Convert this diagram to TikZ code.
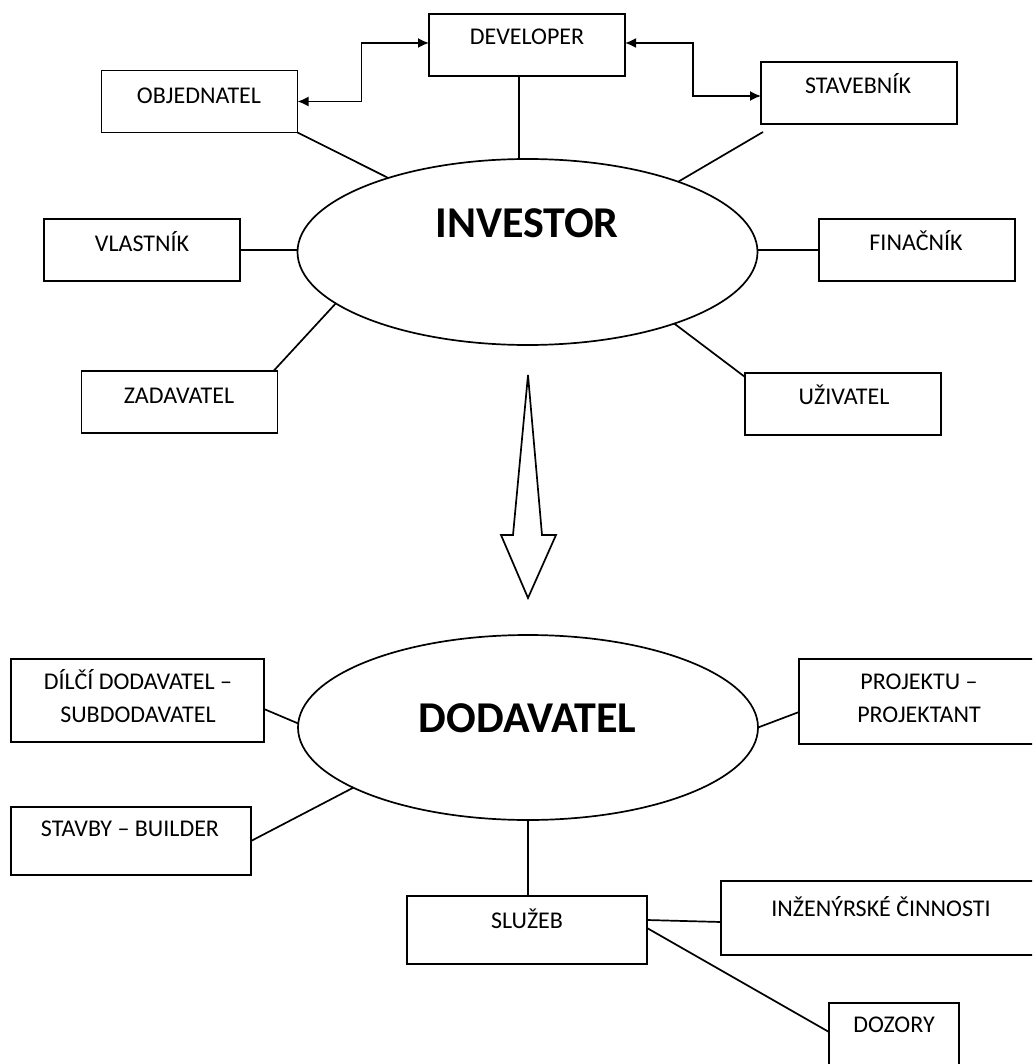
\documentclass[tikz,border=0pt]{standalone}
\usepackage{fontspec}
\setmainfont{Carlito}
\usetikzlibrary{shapes.geometric,arrows.meta,calc}

\begin{document}
\begin{tikzpicture}[x=1pt,y=-1pt,
  every node/.style={inner sep=0pt, outer sep=0pt},
  box/.style={draw, line width=1.7pt, minimum width=196pt, minimum height=62pt},
  oval/.style={draw, ellipse, line width=1.7pt},
  lbl/.style={anchor=base, font=\fontsize{24}{33}\selectfont},
  big/.style={anchor=base, font=\fontsize{44}{50}\selectfont\bfseries},
  link/.style={line width=1.7pt},
  dbl/.style={line width=1.7pt, {Latex[length=11pt,width=10pt]}-{Latex[length=11pt,width=10pt]}}]

\useasboundingbox (0,0) rectangle (1032,1064);
\fill[white] (0,0) rectangle (1032,1064);
\clip (0,0) rectangle (1032,1064);

% ---- investor side ----
\node[oval, minimum width=460pt, minimum height=186pt] (inv) at (527.5,252) {};
\node[big] (invt) at (527,238) {INVESTOR};

\node[box] (dev)  at (527,45)    {};
\node[box] (obj)  at (199.5,101.5) {};
\node[box] (stav) at (859,93)    {};
\node[box] (vla)  at (142,250)   {};
\node[box] (fin)  at (917,250)   {};
\node[box] (zad)  at (179.5,402) {};
\node[box] (uzi)  at (843,404)   {};

\node[lbl] (devt)  at (527,44.7)  {DEVELOPER};
\node[lbl] (objt)  at (199,103.7) {OBJEDNATEL};
\node[lbl] (stavt) at (858,93.7)  {STAVEBNÍK};
\node[lbl] (vlat)  at (142,251.7) {VLASTNÍK};
\node[lbl] (fint)  at (916,250.7) {FINAČNÍK};
\node[lbl] (zadt)  at (179,403.7) {ZADAVATEL};
\node[lbl] (uzit)  at (844,404.7) {UŽIVATEL};

\draw[dbl] (obj.east) -- ++(64,0) |- ([yshift=2pt]dev.west);
\draw[dbl] ([yshift=2pt]dev.east) -- ++(68,0) |- ([yshift=-3pt]stav.west);

\draw[link] ([xshift=-8pt]dev.south) -- ([xshift=-8pt]dev.south |- inv.north);
\draw[link] (obj.south east) -- (inv.152.9);
\draw[link] ([shift={(2pt,-8pt)}]stav.south west) -- (inv.25.1);
\draw[link] (vla.east) -- (vla.east -| inv.west);
\draw[link] (fin.west -| inv.east) -- (fin.west);
\draw[link] ([xshift=-4pt]zad.north east) -- (inv.195.3);
\draw[link] (inv.334.4) -- ([yshift=-4pt]uzi.north west);

% ---- hollow arrow ----
\draw[line width=1.7pt, line join=miter]
  (528,375) -- (542,535) -- (556,535) -- (528,598) -- (501,535) -- (513,535) -- cycle;

% ---- supplier side ----
\node[oval, minimum width=460pt, minimum height=185pt] (dod) at (528,727.5) {};
\node[big] (dodt) at (527.5,732) {DODAVATEL};

\node[box, minimum width=253pt, minimum height=83pt] (dil)  at (137.5,700.5) {};
\node[box, minimum width=253pt, minimum height=85pt] (proj) at (925.5,701.5) {};
\node[box, minimum width=240pt, minimum height=68pt] (stb)  at (131,841)   {};
\node[box, minimum width=240pt, minimum height=68pt] (sluz) at (527,930)   {};
\node[box, minimum width=320pt, minimum height=74pt] (inz)  at (881,918)   {};
\node[box, minimum width=130pt, minimum height=68pt] (doz)  at (894,1037)  {};

\node[lbl] (dilt1)  at (138,689.7) {DÍLČÍ DODAVATEL –};
\node[lbl] (dilt2)  at (138,722.7) {SUBDODAVATEL};
\node[lbl] (projt1) at (919,689.7) {PROJEKTU –};
\node[lbl] (projt2) at (919,722.7) {PROJEKTANT};
\node[lbl] (stbt)   at (130,836.7) {STAVBY – BUILDER};
\node[lbl] (sluzt)  at (527,928.7) {SLUŽEB};
\node[lbl] (inzt)   at (881,916.7) {INŽENÝRSKÉ ČINNOSTI};
\node[lbl] (dozt)   at (894,1032.7) {DOZORY};

\draw[link] ([yshift=-8.5pt]dil.east) -- (dod.179);
\draw[link] (stb.east) -- (dod.199.1);
\draw[link] (dod.0.9) -- ([yshift=-10.5pt]proj.west);
\draw[link] (dod.south) -- (dod.south |- sluz.north);
\draw[link] ([yshift=10pt]sluz.east) -- ([yshift=-4pt]inz.west);
\draw[link] ([yshift=2pt]sluz.east) -- ([yshift=-29pt]doz.north west);
\end{tikzpicture}
\end{document}
